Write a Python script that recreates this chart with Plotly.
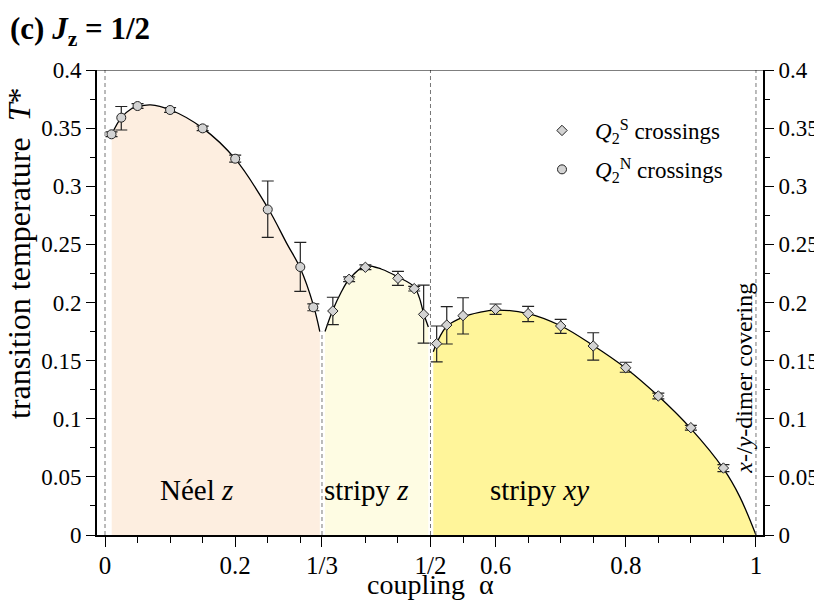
import plotly.graph_objects as go

# Q2^N crossings (circles)
alpha_n = [0.010, 0.025, 0.050, 0.100, 0.150, 0.200, 0.250, 0.300, 0.320]
t_n = [0.3447, 0.359, 0.369, 0.3656, 0.3498, 0.3237, 0.280, 0.2305, 0.1959]
t_n_up = [0.002, 0.0096, 0.002, 0.002, 0.002, 0.003, 0.0245, 0.0212, 0.003]
t_n_dn = [0.002, 0.0106, 0.002, 0.002, 0.002, 0.003, 0.024, 0.0209, 0.003]

# Q2^S crossings (diamonds)
alpha_s = [0.350, 0.375, 0.400, 0.450, 0.475, 0.4895, 0.5095, 0.525, 0.550,
           0.600, 0.650, 0.700, 0.750, 0.800, 0.850, 0.900, 0.950]
t_s = [0.1927, 0.220, 0.2303, 0.2208, 0.2119, 0.1898, 0.1646, 0.1806, 0.1887,
       0.1941, 0.1904, 0.1798, 0.1626, 0.1439, 0.1196, 0.0923, 0.0576]
t_s_up = [0.0118, 0.002, 0.002, 0.006, 0.002, 0.0252, 0.0152, 0.0158, 0.0154,
          0.0046, 0.0063, 0.0057, 0.0114, 0.0047, 0.0025, 0.002, 0.003]
t_s_dn = [0.0117, 0.002, 0.002, 0.006, 0.002, 0.0248, 0.0156, 0.0163, 0.0158,
          0.0043, 0.0069, 0.0063, 0.0121, 0.0039, 0.0025, 0.002, 0.003]

# phase boundary curves
neel_a = [0.0103, 0.025, 0.04, 0.05, 0.07, 0.10, 0.15, 0.20, 0.25, 0.28, 0.30, 0.32, 0.330]
neel_t = [0.3447, 0.359, 0.3665, 0.3685, 0.3700, 0.3658, 0.350, 0.3235, 0.2815, 0.250, 0.2295, 0.198, 0.175]
sz_a = [0.338, 0.350, 0.362, 0.375, 0.400, 0.425, 0.450, 0.475, 0.483, 0.4895, 0.4967]
sz_t = [0.175, 0.1935, 0.208, 0.220, 0.2314, 0.2286, 0.222, 0.2135, 0.204, 0.1905, 0.179]
sxy_a = [0.5043, 0.5095, 0.525, 0.55, 0.575, 0.60, 0.65, 0.70, 0.75, 0.80, 0.85, 0.90, 0.95, 0.975, 1.0]
sxy_t = [0.1577, 0.165, 0.1795, 0.1875, 0.1915, 0.1935, 0.1905, 0.1800, 0.1630, 0.1435, 0.1195,
         0.0915, 0.0570, 0.033, 0.0]

phase_lines = [0.0, 1 / 3, 0.5, 1.0]
phase_line_tops = [0.4, 0.175, 0.4, 0.4]

x_tickvals = [0, 0.2, 1 / 3, 0.5, 0.6, 0.8, 1]
x_ticktext = ["0", "0.2", "1/3", "1/2", "0.6", "0.8", "1"]
x_minor = [0.05, 0.1, 0.15, 0.25, 0.3, 0.4, 0.45, 0.55, 0.65, 0.7, 0.75, 0.85, 0.9, 0.95]
y_tickvals = [0, 0.05, 0.1, 0.15, 0.2, 0.25, 0.3, 0.35, 0.4]
y_ticktext = ["0", "0.05", "0.1", "0.15", "0.2", "0.25", "0.3", "0.35", "0.4"]
y_minor = [0.025, 0.075, 0.125, 0.175, 0.225, 0.275, 0.325, 0.375]

regions = ["Néel <i>z</i>", "stripy <i>z</i>", "stripy <i>xy</i>"]
region_x = [0.141, 0.401, 0.668]
region_y = [0.0387, 0.0387, 0.0387]

FONT = "Liberation Serif, Times New Roman, serif"
INK = "#222222"

# the page body has an 8px margin, so the figure is laid out 8px in from the window corner
W, H = 814, 594
L, R, T, B = 89, 59, 62, 67
pw, ph = W - L - R, H - T - B


def px(x):  # window pixel x -> paper x
    return (x - 8 - L) / pw


def py(y):  # window pixel y -> paper y
    return (H - B - (y - 8)) / ph


fig = go.Figure()

for xs, ys, col in [(neel_a, neel_t, "#FDEEE0"), (sz_a, sz_t, "#FEFCE3"), (sxy_a, sxy_t, "#FFF59A")]:
    fig.add_trace(go.Scatter(
        x=xs, y=ys, mode="lines", line=dict(color="black", width=1.3, shape="spline"),
        fill="tozeroy", fillcolor=col, showlegend=False, hoverinfo="skip",
    ))

# markers sit on the right-hand axis (same range) so that it gets drawn with labels
fig.add_trace(go.Scatter(
    x=alpha_s, y=t_s, mode="markers", name="<i>Q</i><sub>2</sub><sup>S</sup> crossings", yaxis="y2",
    legendgroup="s",
    marker=dict(symbol="diamond", size=8, color="#D3D3D3", line=dict(color=INK, width=1)),
    error_y=dict(type="data", array=t_s_up, arrayminus=t_s_dn, color=INK, thickness=1.2, width=6),
))
fig.add_trace(go.Scatter(
    x=alpha_n, y=t_n, mode="markers", name="<i>Q</i><sub>2</sub><sup>N</sup> crossings", yaxis="y2",
    legendgroup="n",
    marker=dict(symbol="circle", size=9, color="#D3D3D3", line=dict(color=INK, width=1)),
    error_y=dict(type="data", array=t_n_up, arrayminus=t_n_dn, color=INK, thickness=1.2, width=6),
))

for xv, top in zip(phase_lines, phase_line_tops):
    fig.add_shape(type="line", x0=xv, x1=xv, y0=0, y1=top, xref="x", yref="y",
                  line=dict(color="#777777", width=1, dash="4px,3px"), layer="above")
fig.add_shape(type="line", x0=0, x1=1, y0=0.4, y1=0.4, xref="paper", yref="y",
              line=dict(color="black", width=1))

for txt, xv, yv in zip(regions, region_x, region_y):
    fig.add_annotation(x=xv, y=yv, text=txt, showarrow=False,
                       font=dict(family=FONT, size=29, color="black"))

fig.add_annotation(x=0.981, y=0.135, text="<i>x</i>-/<i>y</i>-dimer covering", textangle=-90,
                   showarrow=False, font=dict(family=FONT, size=24, color="black"))

fig.add_annotation(x=px(19), y=py(254), xref="paper", yref="paper", xanchor="center", yanchor="middle",
                   text="transition temperature  <i>T</i>*", textangle=-90, showarrow=False,
                   font=dict(family=FONT, size=32, color="black"))
fig.add_annotation(x=px(430), y=py(584), xref="paper", yref="paper", xanchor="center", yanchor="middle",
                   text="coupling  α", showarrow=False, font=dict(family=FONT, size=28, color="black"))
fig.add_annotation(x=px(8), y=py(9), xref="paper", yref="paper", xanchor="left", yanchor="top",
                   text="<b>(c) <i>J</i><sub>z</sub> = 1/2</b>", showarrow=False,
                   font=dict(family=FONT, size=31, color="black"))

yax = dict(
    range=[0, 0.4], tickmode="array", tickvals=y_tickvals, ticktext=y_ticktext,
    ticks="outside", ticklen=9, tickwidth=1, tickcolor="black",
    minor=dict(tickmode="array", tickvals=y_minor, ticks="outside", ticklen=5, tickcolor="black"),
    showline=True, linewidth=2, linecolor="black", showgrid=False, zeroline=False,
    tickfont=dict(family=FONT, size=23, color="black"), automargin=False,
)

fig.update_layout(
    template="none",
    width=W, height=H,
    margin=dict(l=L, r=R, t=T, b=B),
    plot_bgcolor="white", paper_bgcolor="white",
    showlegend=True,
    legend=dict(x=px(529), y=py(109), xanchor="left", yanchor="top", bgcolor="rgba(0,0,0,0)",
                traceorder="grouped", tracegroupgap=6, itemwidth=56,
                font=dict(family=FONT, size=23, color="black")),
    xaxis=dict(
        range=[-0.0123, 1.0108], tickmode="array", tickvals=x_tickvals, ticktext=x_ticktext,
        ticks="outside", ticklen=10, tickwidth=1, tickcolor="black", ticklabelstandoff=-3,
        minor=dict(tickmode="array", tickvals=x_minor, ticks="outside", ticklen=6, tickcolor="black"),
        showline=True, linewidth=2, linecolor="black", showgrid=False, zeroline=False,
        tickfont=dict(family=FONT, size=25, color="black"), automargin=False,
    ),
    yaxis=yax,
    yaxis2=dict(yax, overlaying="y", side="right", anchor="x"),
)

fig.write_html("out.html")
